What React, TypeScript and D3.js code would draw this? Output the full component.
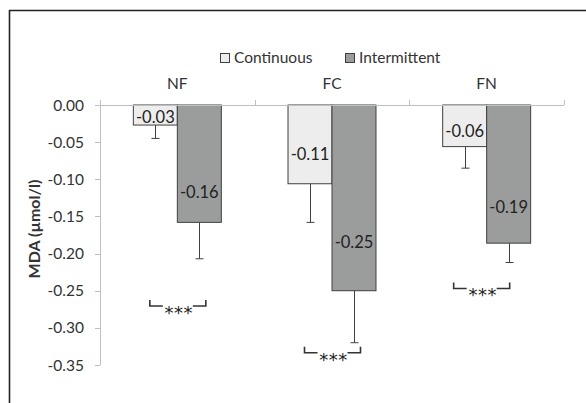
import React from "react";
import * as d3 from "d3";

// data
const categories = ["NF", "FC", "FN"];
const series = ["Continuous", "Intermittent"];
const continuous = [-0.027, -0.106, -0.056];
const intermittent = [-0.158, -0.25, -0.186];
const continuousErr = [0.018, 0.052, 0.029];
const intermittentErr = [0.049, 0.07, 0.026];
const yTicks = [0, -0.05, -0.1, -0.15, -0.2, -0.25, -0.3, -0.35];
const sigLevels = [-0.2705, -0.3335, -0.247];
const sigLabels = ["***", "***", "***"];

const W = 586;
const H = 403;
const FONT = "Lato, 'Open Sans', sans-serif";
const TEXT = "#333";
const fills = ["#ededed", "#9b9d9d"];
const labelFrac = [0.62, 0.74];

// excel style: plain hyphen for the minus sign
const fmt = (v: number) => d3.format(".2f")(v).replace("\u2212", "-");

export default function App() {
  const x = d3.scaleBand<string>().domain(categories).range([100, 564]).padding(0);
  const inner = d3
    .scaleBand<string>()
    .domain(series)
    .range([0, x.bandwidth()])
    .paddingInner(0)
    .paddingOuter(0.758);
  const y = d3.scaleLinear().domain([-0.35, 0]).range([365, 105]);

  const values = [continuous, intermittent];
  const errs = [continuousErr, intermittentErr];
  const bw = inner.bandwidth();

  return (
    <svg
      width={W}
      height={H}
      style={{ position: "absolute", left: 0, top: 0, background: "#fff" }}
      fontFamily={FONT}
    >
      {/* frame: only top and left visible */}
      <line x1={9} y1={10.5} x2={W} y2={10.5} stroke="#222" strokeWidth={1.6} />
      <line x1={9.5} y1={10} x2={9.5} y2={H} stroke="#222" strokeWidth={1.6} />

      {/* legend */}
      {series.map((s, i) => {
        const lx = i === 0 ? 220 : 345;
        return (
          <g key={s}>
            <rect x={lx + 0.5} y={53.5} width={9} height={9} fill={fills[i]} stroke="#404040" />
            <text x={lx + 14} y={63} fontSize={15.5} fill={TEXT}>
              {s}
            </text>
          </g>
        );
      })}

      {/* category labels above the zero line */}
      {categories.map((c) => (
        <text
          key={c}
          x={x(c)! + x.bandwidth() / 2}
          y={89}
          fontSize={15.5}
          textAnchor="middle"
          fill={TEXT}
        >
          {c}
        </text>
      ))}

      {/* y axis */}
      <line x1={100.5} y1={105} x2={100.5} y2={365} stroke="#bfbfbf" />
      {yTicks.map((t) => (
        <g key={t}>
          <line x1={95} x2={100} y1={Math.round(y(t)) + 0.5} y2={Math.round(y(t)) + 0.5} stroke="#bfbfbf" />
          <text x={84} y={y(t) + 5.5} fontSize={15.5} textAnchor="end" fill={TEXT}>
            {fmt(t)}
          </text>
        </g>
      ))}
      <text
        transform={`translate(40,${229}) rotate(-90)`}
        fontSize={16}
        fontWeight="bold"
        textAnchor="middle"
        fill={TEXT}
      >
        MDA (µmol/l)
      </text>

      {/* bars */}
      {categories.map((c, ci) =>
        series.map((s, si) => {
          const v = values[si][ci];
          const bx = x(c)! + inner(s)!;
          return (
            <rect
              key={c + s}
              x={bx}
              y={y(0)}
              width={bw}
              height={y(v) - y(0)}
              fill={fills[si]}
              stroke="#404040"
              strokeWidth={1}
            />
          );
        })
      )}

      {/* category axis on top of bars */}
      <line x1={100} y1={105.5} x2={564} y2={105.5} stroke="#bfbfbf" />
      {[...categories.map((c) => x(c)!), 564].map((tx) => (
        <line key={tx} x1={Math.round(tx) + 0.5} x2={Math.round(tx) + 0.5} y1={100} y2={105} stroke="#bfbfbf" />
      ))}

      {/* error bars */}
      {categories.map((c, ci) =>
        series.map((s, si) => {
          const v = values[si][ci];
          const e = errs[si][ci];
          const cx = Math.round(x(c)! + inner(s)! + bw / 2) + 0.5;
          return (
            <g key={"e" + c + s} stroke="#404040" strokeWidth={1}>
              <line x1={cx} x2={cx} y1={y(v)} y2={y(v - e)} />
              <line x1={cx - 4} x2={cx + 4} y1={y(v - e)} y2={y(v - e)} />
            </g>
          );
        })
      )}

      {/* value labels */}
      {categories.map((c, ci) =>
        series.map((s, si) => {
          const v = values[si][ci];
          return (
            <text
              key={"l" + c + s}
              x={x(c)! + inner(s)! + bw / 2}
              y={y(v * labelFrac[si]) + 6}
              fontSize={16.5}
              textAnchor="middle"
              fill="#222"
            >
              {fmt(v)}
            </text>
          );
        })
      )}

      {/* significance brackets */}
      {categories.map((c, ci) => {
        const cx = x(c)! + x.bandwidth() / 2 + (ci === 2 ? -5 : 0.5);
        const by = y(sigLevels[ci]);
        const half = 28;
        const gap = 15;
        return (
          <g key={"s" + c}>
            <path
              d={`M${cx - half},${by - 6}V${by}H${cx - gap} M${cx + gap},${by}H${cx + half}V${by - 6}`}
              fill="none"
              stroke="#333"
              strokeWidth={1.6}
            />
            <text
              x={cx + 1}
              y={by + 13}
              fontSize={18}
              fontFamily="'DejaVu Sans', sans-serif"
              textAnchor="middle"
              fill="#222"
              letterSpacing={0.5}
            >
              {sigLabels[ci]}
            </text>
          </g>
        );
      })}
    </svg>
  );
}
